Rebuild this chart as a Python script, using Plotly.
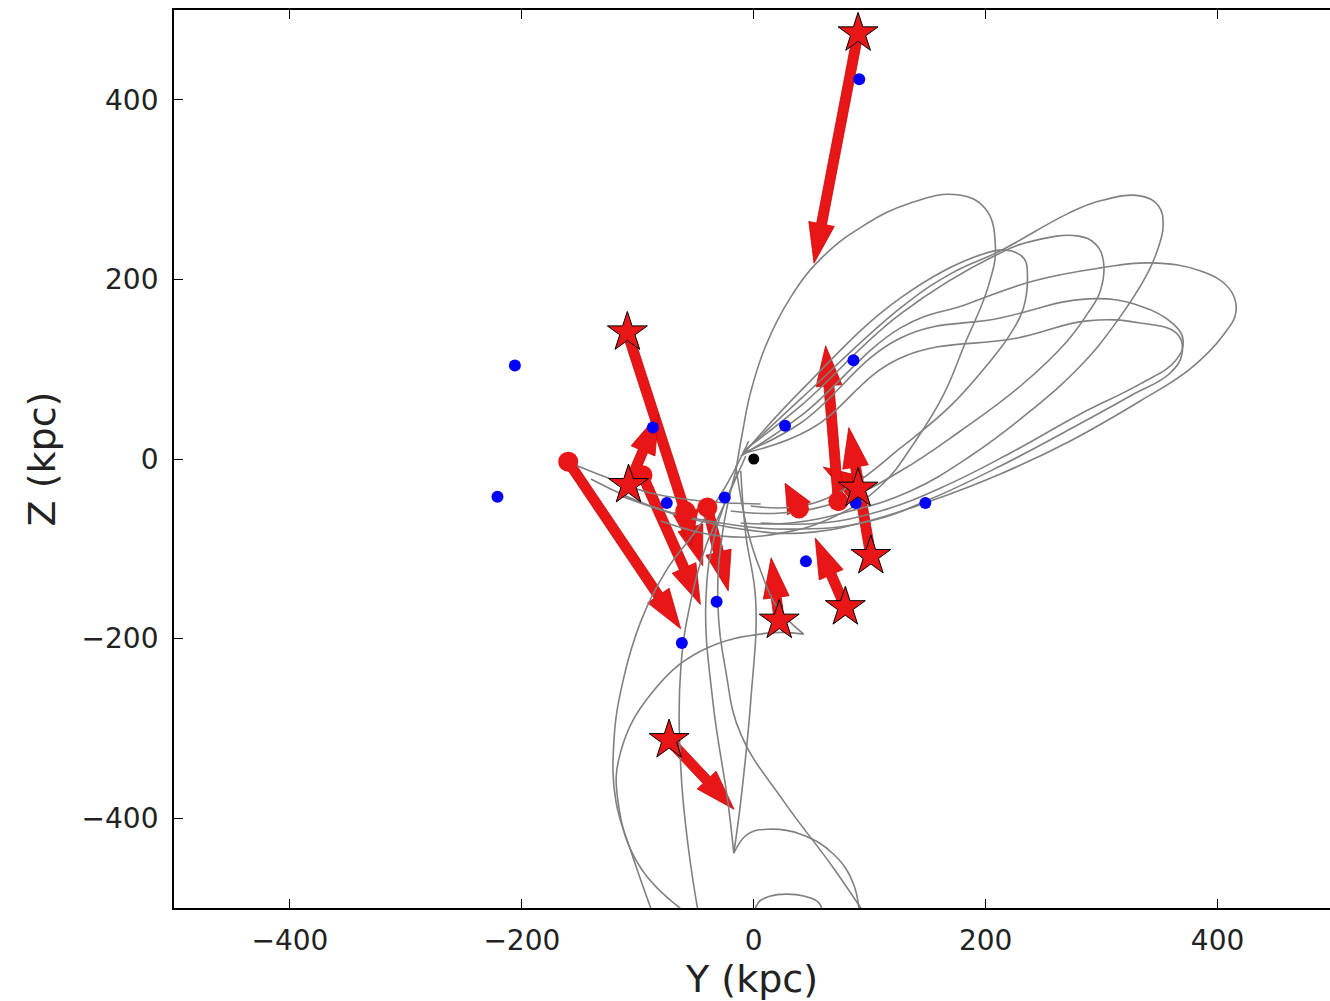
import math
import plotly.graph_objects as go

# ---------------- figure geometry ----------------
W, H = 1330, 1001
M_L, M_R, M_T, M_B = 174, 0, 10, 93
X_RANGE = [-500, 497]
Y_RANGE = [-500, 500]

# ---------------- satellites (kpc) ----------------
# satellites with measured proper motions (stars) and their velocity tips
star_y = [90, -109, -108, 90, 101, 79, 22, -73]
star_z = [474, 141, -29, -33, -108, -165, -180, -313]
star_tip_y = [52, -44, -82, 60, 82, 53, 15, -17]
star_tip_z = [218, -119, 50, -9, 35, -88, -110, -390]

# satellites drawn as filled circles and their velocity tips
circ_y = [-160, -59, -40, -96, 39, 73]
circ_z = [-3, -58, -54, -18, -55, -47]
circ_tip_y = [-63, -54, -22, -46, 27, 62]
circ_tip_z = [-189, -97, -147, -162, -27, 126]

# other satellites without velocities
blue_y = [91, -206, -221, -87, -75, -25, 27, 86, 88, 148, 45, -32, -62]
blue_z = [423, 104, -42, 35, -49, -43, 37, 110, -49, -49, -114, -159, -205]

# the Galactic centre
centre_y = [0]
centre_z = [0]

# ---------------- integrated orbits (kpc) ----------------
orbits = [
    # petals reaching up and to the right
    ([-15.5, -9.5, -2.6, 10.3, 31.0, 57.7, 93.0, 135.2, 175.7, 199.8, 208.4, 202.4,
      181.7, 163.6, 139.5, 109.4, 70.6, 23.3, -28.4, -80.1],
     [-13.4, 31.2, 74.7, 125.9, 178.3, 222.8, 258.5, 285.2, 294.2, 278.6, 237.3, 192.8,
      127.0, 71.3, 20.1, -30.1, -63.5, -82.5, -85.8, -69.1]),
    ([-9.5, 40.5, 126.6, 169.7, 212.7, 270.5, 298.9, 333.3, 349.0, 353.1, 348.0, 339.4,
      313.5, 281.7, 238.6, 186.9, 135.2, 83.5, 31.9, -11.2],
     [6.7, 66.9, 168.2, 206.1, 231.8, 273.0, 287.5, 293.0, 282.0, 260.0, 232.0, 206.1,
      153.8, 103.6, 53.5, 3.3, -35.7, -57.9, -71.3, -71.3]),
    ([-6.9, 40.5, 126.6, 212.7, 241.2, 279.1, 294.6, 301.5, 298.9, 287.7, 270.5, 230.0,
      178.3, 126.6, 74.9, 23.3, -19.8],
     [11.1, 59.1, 161.6, 229.5, 242.9, 248.5, 239.6, 220.6, 187.2, 161.6, 131.5, 81.3,
      31.2, -13.4, -46.8, -60.2, -57.9]),
    ([-6.9, 40.5, 126.6, 198.1, 221.4, 233.4, 236.0, 232.6, 221.4, 204.1, 169.7, 126.6,
      83.5, 40.5, -2.6],
     [8.9, 75.8, 179.4, 228.4, 231.8, 222.8, 206.1, 168.2, 139.3, 109.2, 59.1, 12.3,
      -30.1, -52.4, -52.4]),
    ([-11.2, 40.5, 126.6, 184.3, 241.2, 298.9, 341.9, 385.0, 410.0, 416.0, 405.0, 376.4,
      333.3, 273.0, 212.7, 152.5, 92.2, 40.5, -11.2, -62.9, -114.6],
     [3.3, 47.9, 146.0, 172.7, 198.3, 212.8, 218.4, 209.5, 190.0, 165.0, 138.0, 100.3,
      64.6, 20.1, -16.7, -46.8, -71.3, -82.5, -78.0, -63.5, -41.2]),
    ([-9.5, 40.5, 126.6, 212.7, 287.7, 333.3, 361.8, 370.4, 363.5, 333.3, 281.7, 221.4,
      161.1, 109.4, 57.7, 6.0],
     [6.7, 40.1, 134.8, 157.1, 178.3, 170.5, 150.4, 131.5, 109.2, 83.6, 50.1, 6.7,
      -32.3, -57.9, -71.3, -71.3]),
    ([-7.8, 49.1, 126.6, 227.4, 287.7, 333.3, 365.2, 369.5, 359.2, 324.7, 273.0, 212.7,
      152.5, 100.8, 40.5, -28.4, -88.7, -140.4],
     [6.7, 33.4, 112.5, 134.8, 153.8, 151.5, 139.3, 118.1, 95.8, 70.2, 33.4, -7.8,
      -44.6, -69.1, -78.0, -71.3, -52.4, -22.3]),
    ([-160.2, -123.2, -88.7, -45.6, 6.0],
     [-3.3, -22.3, -37.9, -46.8, -50.1]),
    # branches falling below the disc
    ([-4.3, -24.1, -50.0, -75.8, -97.3, -112.8, -120.6, -118.9, -105.9, -84.6],
     [20.0, -30.1, -80.2, -124.8, -180.5, -247.4, -314.2, -381.0, -436.8, -515.0]),
    ([-15.5, -5.2, 6.0, 20.7, 43.1],
     [-7.8, -80.2, -124.8, -166.0, -195.0]),
    ([43.1, 12.1, -45.6, -88.7, -114.6, -117.1, -97.3, -47.8],
     [-195.0, -193.9, -213.9, -261.8, -325.3, -381.0, -455.7, -515.0]),
    ([-6.9, -24.1, -41.3, -54.3, -62.9, -62.9, -56.0, -46.5],
     [3.3, -46.8, -96.9, -158.2, -232.9, -344.3, -436.8, -515.0]),
    ([-11.2, -6.9, 1.7, -2.6, -11.2, -17.2],
     [-13.4, -83.6, -158.2, -269.6, -381.0, -439.0]),
    ([-17.2, -5.2, 12.1, 40.5, 68.9, 86.1, 91.5],
     [-439.0, -417.8, -412.3, -417.8, -440.1, -473.5, -515.0]),
    ([-12.9, -32.7, -41.3, -35.3, -22.4, -17.2],
     [-13.4, -80.2, -158.2, -269.6, -381.0, -439.0]),
    ([-15.5, -26.7, -31.0, -24.1, -11.2, 25.8, 68.9, 99.9],
     [-13.4, -80.2, -158.2, -236.2, -306.4, -381.0, -455.7, -515.0]),
    ([-1.0, 4.0, 14.0, 28.0, 44.0, 56.0, 61.0],
     [-515.0, -494.0, -487.0, -484.5, -487.0, -494.0, -515.0]),
]

RED = "rgb(232,22,22)"
GRAY = "rgb(128,128,128)"

plot_w = W - M_L - M_R
plot_h = H - M_T - M_B
sx = plot_w / (X_RANGE[1] - X_RANGE[0])
sy = plot_h / (Y_RANGE[1] - Y_RANGE[0])


def arrow_polygon(y0, z0, y1, z1, shaft=10.0, head_w=26.0, head_l=40.0):
    """Outline of a filled arrow, built in screen pixels so the head keeps its shape."""
    u0, v0, u1, v1 = y0 * sx, z0 * sy, y1 * sx, z1 * sy
    du, dv = u1 - u0, v1 - v0
    length = math.hypot(du, dv)
    ux, uy = du / length, dv / length
    nx, ny = -uy, ux
    hl = min(head_l, length)
    bu, bv = u1 - ux * hl, v1 - uy * hl
    pts = [
        (u0 + nx * shaft / 2, v0 + ny * shaft / 2),
        (bu + nx * shaft / 2, bv + ny * shaft / 2),
        (bu + nx * head_w / 2, bv + ny * head_w / 2),
        (u1, v1),
        (bu - nx * head_w / 2, bv - ny * head_w / 2),
        (bu - nx * shaft / 2, bv - ny * shaft / 2),
        (u0 - nx * shaft / 2, v0 - ny * shaft / 2),
        (u0 + nx * shaft / 2, v0 + ny * shaft / 2),
    ]
    return [p[0] / sx for p in pts], [p[1] / sy for p in pts]


fig = go.Figure()

# velocity arrows (bottom layer)
starts_y = star_y + circ_y
starts_z = star_z + circ_z
tips_y = star_tip_y + circ_tip_y
tips_z = star_tip_z + circ_tip_z
for y0, z0, y1, z1 in zip(starts_y, starts_z, tips_y, tips_z):
    py, pz = arrow_polygon(y0, z0, y1, z1)
    fig.add_trace(go.Scatter(
        x=py, y=pz, mode="lines", fill="toself", fillcolor=RED,
        line=dict(color="rgb(200,10,10)", width=0.8),
        hoverinfo="skip", showlegend=False,
    ))

# orbits
for oy, oz in orbits:
    fig.add_trace(go.Scatter(
        x=oy, y=oz, mode="lines",
        line=dict(color=GRAY, width=1.6, shape="spline", smoothing=1.2),
        hoverinfo="skip", showlegend=False,
    ))

# satellites
fig.add_trace(go.Scatter(
    x=circ_y, y=circ_z, mode="markers",
    marker=dict(symbol="circle", size=20, color=RED, line=dict(width=0)),
    showlegend=False,
))
fig.add_trace(go.Scatter(
    x=blue_y, y=blue_z, mode="markers",
    marker=dict(symbol="circle", size=12, color="rgb(0,0,255)", line=dict(width=0)),
    showlegend=False,
))
fig.add_trace(go.Scatter(
    x=star_y, y=star_z, mode="markers",
    marker=dict(symbol="star", size=30, color=RED, line=dict(color="black", width=1)),
    showlegend=False,
))
fig.add_trace(go.Scatter(
    x=centre_y, y=centre_z, mode="markers",
    marker=dict(symbol="circle", size=11, color="black", line=dict(width=0)),
    showlegend=False,
))

tick_vals = [-400, -200, 0, 200, 400]
tick_text = ["\u2212400", "\u2212200", "0", "200", "400"]

axis_common = dict(
    tickvals=tick_vals, ticktext=tick_text,
    ticks="inside", ticklen=9, tickwidth=1.2, tickcolor="black",
    showgrid=False, zeroline=False,
    showline=True, linecolor="black", linewidth=1.8,
    tickfont=dict(family="DejaVu Sans", size=28, color="#222"),
)

fig.update_layout(
    width=W, height=H,
    margin=dict(l=M_L, r=M_R, t=M_T, b=M_B),
    paper_bgcolor="white", plot_bgcolor="white",
    xaxis=dict(range=X_RANGE, mirror="ticks", ticklabelstandoff=6,
               title=dict(text="Y (kpc)", font=dict(family="DejaVu Sans", size=38, color="#222"),
                          standoff=12),
               **axis_common),
    yaxis=dict(range=Y_RANGE, mirror=False, ticklabelstandoff=8,
               title=dict(text="Z (kpc)", font=dict(family="DejaVu Sans", size=38, color="#222"),
                          standoff=14),
               **axis_common),
)

fig.write_html("out.html")
